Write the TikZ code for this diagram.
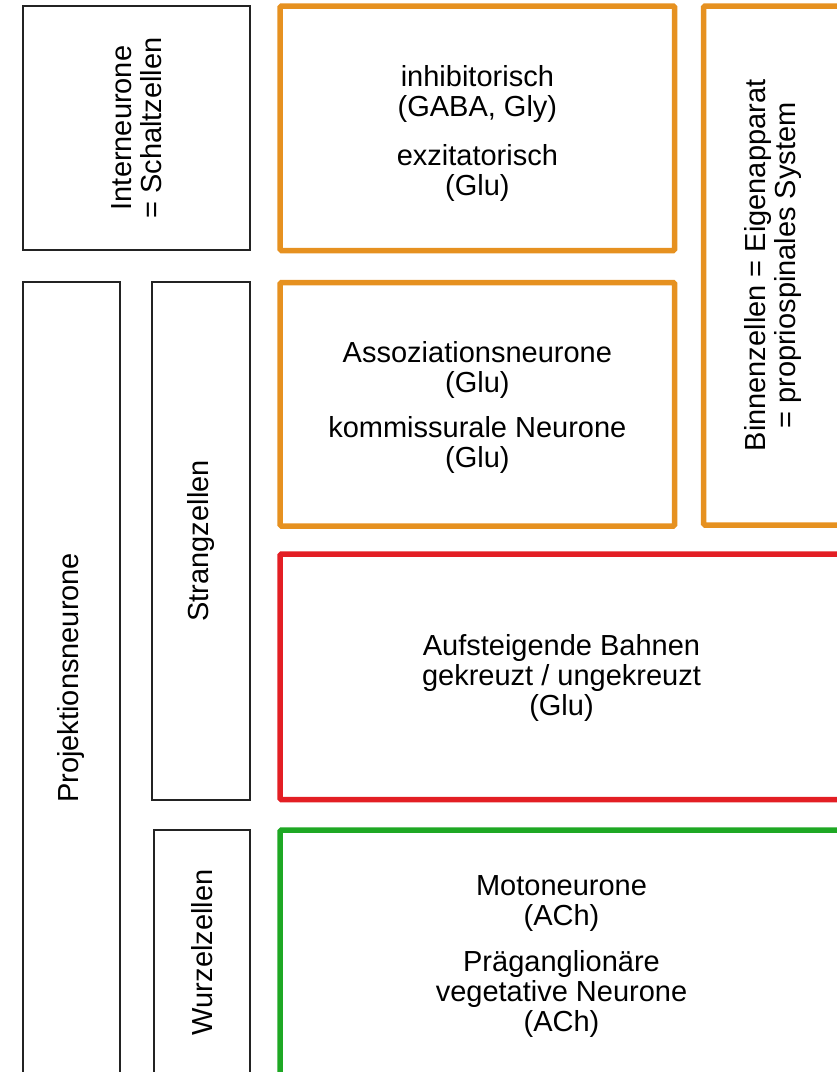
\documentclass[tikz,border=0pt]{standalone}
\usepackage{fontspec}
\setmainfont{Liberation Sans}
\usetikzlibrary{fit}
\definecolor{orng}{RGB}{230,145,32}
\definecolor{rd}{RGB}{227,30,36}
\definecolor{grn}{RGB}{30,168,36}
\definecolor{frame}{RGB}{35,35,35}
\tikzset{
  box/.style={inner sep=0pt, outer sep=0pt, rounded corners=1.5pt},
  blackbox/.style={box, draw=frame, line width=1.8pt, rounded corners=0pt},
  orangebox/.style={box, draw=orng, line width=5.5pt},
  redbox/.style={box, draw=rd, line width=5.5pt},
  greenbox/.style={box, draw=grn, line width=5.5pt},
  lbl/.style={align=center, inner sep=0pt, font=\fontsize{29}{30}\selectfont},
  vlbl/.style={lbl, rotate=90},
}
\begin{document}
\begin{tikzpicture}[x=1pt,y=-1pt]
\useasboundingbox (0,0) rectangle (837,1072);
\clip (0,0) rectangle (837,1072);
% black boxes
\node[blackbox, fit={(22.7,5.7) (249.7,250.3)}] (inter) {};
\node[blackbox, fit={(22.7,281.7) (119.7,1074)}] (proj) {};
\node[blackbox, fit={(152.3,281.7) (249.7,800)}] (strang) {};
\node[blackbox, fit={(153.7,829.7) (249.7,1075)}] (wurzel) {};
% coloured boxes
\node[orangebox, fit={(280,6) (674.7,250.5)}] (inhib) {};
\node[orangebox, fit={(280,282.5) (674.7,526)}] (assoz) {};
\node[orangebox, fit={(703.5,6) (843,525)}] (binnen) {};
\node[redbox, fit={(280,554) (843,799.7)}] (auf) {};
\node[greenbox, fit={(280,830) (843,1075)}] (moto) {};
% labels
\node[vlbl] (tinter) at (inter.center) {Interneurone\\= Schaltzellen};
\node[vlbl] (tproj) at (proj.center) {Projektionsneurone};
\node[vlbl] (tstrang) at (strang.center) {Strangzellen};
\node[vlbl] (twurzel) at (wurzel.center) {Wurzelzellen};
\node[vlbl] (tbinnen) at (binnen.center) {Binnenzellen = Eigenapparat\\= propriospinales System};
\node[lbl] (tinhib) at ([yshift=-5pt]inhib.center) {inhibitorisch\\(GABA, Gly)\\[19pt]exzitatorisch\\(Glu)};
\node[lbl] (tassoz) at ([yshift=-3pt]assoz.center) {Assoziationsneurone\\(Glu)\\[15pt]kommissurale Neurone\\(Glu)};
\node[lbl] (tauf) at ([yshift=-1pt]auf.center) {Aufsteigende Bahnen\\gekreuzt / ungekreuzt\\(Glu)};
\node[lbl] (tmoto) at ([yshift=-4pt]moto.center) {Motoneurone\\(ACh)\\[16pt]Präganglionäre\\vegetative Neurone\\(ACh)};
\end{tikzpicture}
\end{document}
